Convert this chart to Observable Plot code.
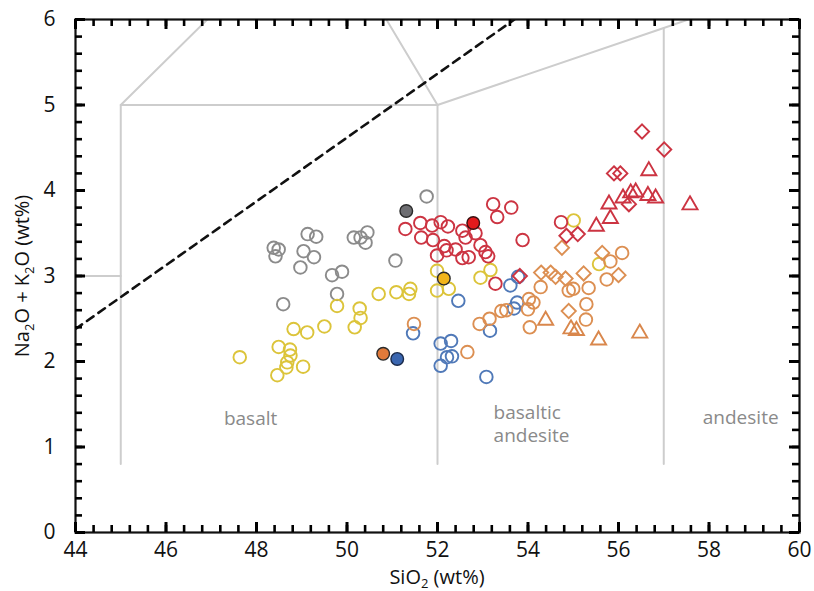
<!DOCTYPE html>
<html>
<head>
<meta charset="utf-8">
<script src="https://cdn.jsdelivr.net/npm/d3@7"></script>
<script src="https://cdn.jsdelivr.net/npm/@observablehq/plot@0.6"></script>
<style>
  html, body { margin: 0; padding: 0; background: #fff; }
  #chart svg { display: block; }
</style>
</head>
<body>
<div id="chart"></div>
<script>
// ---- Data (SiO2, Na2O+K2O) ----
const greyOpen = [[48.38,3.33],[48.49,3.31],[48.42,3.23],[49.13,3.49],[49.32,3.46],[49.04,3.29],[49.27,3.22],[48.97,3.10],[49.67,3.01],[49.89,3.05],[49.78,2.79],[48.59,2.67],[50.15,3.45],[50.30,3.45],[50.45,3.51],[50.41,3.39],[51.07,3.18],[51.76,3.93]];
const greyFilled = [[51.31,3.76]];
const redOpen = [[51.29,3.55],[51.62,3.62],[51.64,3.45],[51.88,3.59],[51.90,3.42],[52.07,3.63],[52.23,3.58],[52.55,3.53],[52.62,3.45],[52.84,3.50],[52.15,3.35],[52.20,3.30],[52.40,3.31],[51.99,3.24],[52.95,3.36],[53.06,3.28],[53.12,3.23],[52.55,3.21],[52.69,3.22],[53.23,3.84],[53.63,3.80],[53.32,3.69],[53.88,3.42],[54.73,3.63],[53.28,2.91]];
const redFilled = [[52.79,3.62]];
const redDiamond = [[54.85,3.47],[55.10,3.49],[55.90,4.20],[56.04,4.20],[56.52,4.69],[57.01,4.48],[56.23,3.84],[53.82,3.00]];
const redTriangle = [[55.51,3.58],[55.82,3.67],[55.79,3.84],[56.10,3.91],[56.27,3.97],[56.38,3.98],[56.65,3.94],[56.82,3.91],[56.67,4.23],[57.58,3.83]];
const yellowOpen = [[47.63,2.05],[48.46,1.84],[48.49,2.17],[48.74,2.14],[48.75,2.07],[48.68,1.99],[48.66,1.93],[49.03,1.94],[48.82,2.38],[49.12,2.34],[49.50,2.41],[49.78,2.65],[50.17,2.40],[50.28,2.62],[50.30,2.51],[50.70,2.79],[51.09,2.81],[51.37,2.79],[51.40,2.85],[51.99,3.06],[51.99,2.83],[52.25,2.85],[52.95,2.98],[53.17,3.07],[55.01,3.65],[55.57,3.14]];
const yellowFilled = [[52.14,2.97]];
const orangeOpen = [[51.48,2.44],[52.66,2.11],[52.93,2.44],[53.15,2.50],[53.41,2.59],[53.52,2.60],[54.00,2.61],[54.02,2.73],[54.12,2.69],[54.04,2.40],[54.28,2.87],[54.90,2.83],[55.00,2.85],[55.34,2.86],[55.29,2.67],[55.28,2.49],[55.74,2.96],[56.08,3.27],[55.82,3.17]];
const orangeDiamond = [[54.29,3.04],[54.50,3.04],[54.61,2.99],[54.83,2.97],[55.23,3.03],[56.00,3.01],[54.90,2.59],[54.75,3.33],[55.64,3.27]];
const orangeTriangle = [[54.39,2.48],[54.95,2.38],[55.07,2.36],[55.56,2.25],[56.47,2.33]];
const orangeFilled = [[50.80,2.09]];
const blueOpen = [[51.46,2.33],[52.07,2.21],[52.30,2.24],[52.21,2.05],[52.32,2.06],[52.07,1.95],[52.46,2.71],[53.08,1.82],[53.16,2.36],[53.61,2.89],[53.76,2.69],[53.69,2.62],[53.78,2.99]];
const blueFilled = [[51.11,2.03]];

// TAS field boundaries (SiO2, Na2O+K2O)
const tasBoundaries = [
  [[45,0.8],[45,5],[52,5],[52,0.8]],
  [[44,3],[45,3]],
  [[45,5],[49.4,7.3],[52,5]],
  [[52,5],[57,5.9],[63,7]],
  [[57,0.8],[57,5.9]]
];
const alkalineLine = [[44,2.38],[53.7,6.0]];

const fieldLabels = ["basalt", "basaltic\nandesite", "andesite"];
const fieldLabelX = [47.87, 53.24, 58.70];
const fieldLabelY = [1.34, 1.28, 1.36];
const fieldLabelAnchor = ["middle", "start", "middle"];

const xTicks = [44, 46, 48, 50, 52, 54, 56, 58, 60];
const yTicks = [0, 1, 2, 3, 4, 5, 6];

// ---- layout ----
const W = 814, H = 591, ML = 75, MR = 15, MT = 19, MB = 59;
const innerW = W - ML - MR, innerH = H - MT - MB;
const majorLen = 10, minorLen = 7;

// ---- styles ----
const groups = [
  {data: greyOpen,      symbol: "circle",   stroke: "#8b8b8b", fill: "none"},
  {data: yellowOpen,    symbol: "circle",   stroke: "#dcc43a", fill: "none"},
  {data: blueOpen,      symbol: "circle",   stroke: "#5079b8", fill: "none"},
  {data: orangeOpen,    symbol: "circle",   stroke: "#dc8f52", fill: "none"},
  {data: orangeDiamond, symbol: "diamond2", stroke: "#dc8f52", fill: "none"},
  {data: orangeTriangle,symbol: "triangle", stroke: "#d9874c", fill: "none"},
  {data: redOpen,       symbol: "circle",   stroke: "#cc3442", fill: "none"},
  {data: redDiamond,    symbol: "diamond2", stroke: "#cc3442", fill: "none"},
  {data: redTriangle,   symbol: "triangle", stroke: "#cc3442", fill: "none"},
  {data: greyFilled,    symbol: "circle",   stroke: "#2a2a2a", fill: "#6e6e72"},
  {data: redFilled,     symbol: "circle",   stroke: "#3a1010", fill: "#e31a1c"},
  {data: yellowFilled,  symbol: "circle",   stroke: "#2a2a2a", fill: "#f2b51b"},
  {data: orangeFilled,  symbol: "circle",   stroke: "#2a2a2a", fill: "#e07a3a"},
  {data: blueFilled,    symbol: "circle",   stroke: "#1a2a4a", fill: "#3a66b0"}
];

const boundaryRows = tasBoundaries.flatMap((seg, i) => seg.map(([x, y]) => ({x, y, seg: i})));
const labelRows = fieldLabels.map((t, i) => ({t, x: fieldLabelX[i], y: fieldLabelY[i], a: fieldLabelAnchor[i]}));

const dotMarks = groups.map(g => Plot.dot(g.data.map(([x, y]) => ({x, y})), {
  x: "x", y: "y", symbol: () => g.symbol,
  r: g.symbol === "circle" ? 6.3 : g.symbol === "triangle" ? 5.6 : 6.4,
  stroke: g.stroke, fill: g.fill,
  strokeWidth: g.fill === "none" ? 1.9 : 1.4
}));

const labelMarks = ["middle", "start"].map(a => Plot.text(labelRows.filter(d => d.a === a), {
  x: "x", y: "y", text: "t", textAnchor: a, fill: "#8a8a8a", fontSize: 19, lineHeight: 1.2
}));

const minorX = d3.range(44, 60.001, 0.4).map(v => +v.toFixed(2));
const minorY = d3.range(0, 6.001, 0.2).map(v => +v.toFixed(2));

// inward ticks on all four sides as short rules (inset to the tick length)
const tickMarks = [];
for (const [vals, len, sw] of [[minorX, minorLen, 2.6], [xTicks, majorLen, 3]]) {
  tickMarks.push(Plot.ruleX(vals, {x: d => d, insetTop: innerH - len, stroke: "#000", strokeWidth: sw}));
  tickMarks.push(Plot.ruleX(vals, {x: d => d, insetBottom: innerH - len, stroke: "#000", strokeWidth: sw}));
}
for (const [vals, len, sw] of [[minorY, minorLen, 2.6], [yTicks, majorLen, 3]]) {
  tickMarks.push(Plot.ruleY(vals, {y: d => d, insetRight: innerW - len, stroke: "#000", strokeWidth: sw}));
  tickMarks.push(Plot.ruleY(vals, {y: d => d, insetLeft: innerW - len, stroke: "#000", strokeWidth: sw}));
}

const plot = Plot.plot({
  width: W,
  height: H,
  marginLeft: ML,
  marginRight: MR,
  marginTop: MT,
  marginBottom: MB,
  style: {fontFamily: "'Open Sans', sans-serif", fontSize: "21px", color: "#111", background: "#fff"},
  x: {domain: [44, 60]},
  y: {domain: [0, 6]},
  marks: [
    Plot.line(boundaryRows, {x: "x", y: "y", z: "seg", stroke: "#cdcdcd", strokeWidth: 2, clip: true}),
    Plot.line(alkalineLine.map(([x, y]) => ({x, y})), {x: "x", y: "y", stroke: "#111", strokeWidth: 2.6, strokeDasharray: "8,6", clip: true}),
    ...labelMarks,
    ...dotMarks,
    Plot.frame({stroke: "#111", strokeWidth: 2.2}),
    ...tickMarks,
    Plot.axisX(xTicks, {anchor: "bottom", tickSize: 0, tickPadding: 10, label: null, fontSize: 21, tickFormat: d3.format("d")}),
    Plot.axisY(yTicks, {anchor: "left", tickSize: 0, tickPadding: 20, label: null, fontSize: 21, tickFormat: d3.format("d")})
  ]
});

document.getElementById("chart").appendChild(plot);

// axis titles with real subscripts
const svg = d3.select(plot);
const xt = svg.append("text")
  .attr("x", 437).attr("y", 584)
  .attr("text-anchor", "middle")
  .attr("font-family", "'Open Sans', sans-serif")
  .attr("font-size", 20).attr("fill", "#111");
xt.append("tspan").text("SiO");
xt.append("tspan").text("2").attr("font-size", 13).attr("dy", 4);
xt.append("tspan").text(" (wt%)").attr("dy", -4);

const yt = svg.append("text")
  .attr("transform", "translate(29,276) rotate(-90)")
  .attr("text-anchor", "middle")
  .attr("font-family", "'Open Sans', sans-serif")
  .attr("font-size", 20).attr("fill", "#111");
yt.append("tspan").text("Na");
yt.append("tspan").text("2").attr("font-size", 13).attr("dy", 5);
yt.append("tspan").text("O + K").attr("dy", -5);
yt.append("tspan").text("2").attr("font-size", 13).attr("dy", 5);
yt.append("tspan").text("O (wt%)").attr("dy", -5);
</script>
</body>
</html>
